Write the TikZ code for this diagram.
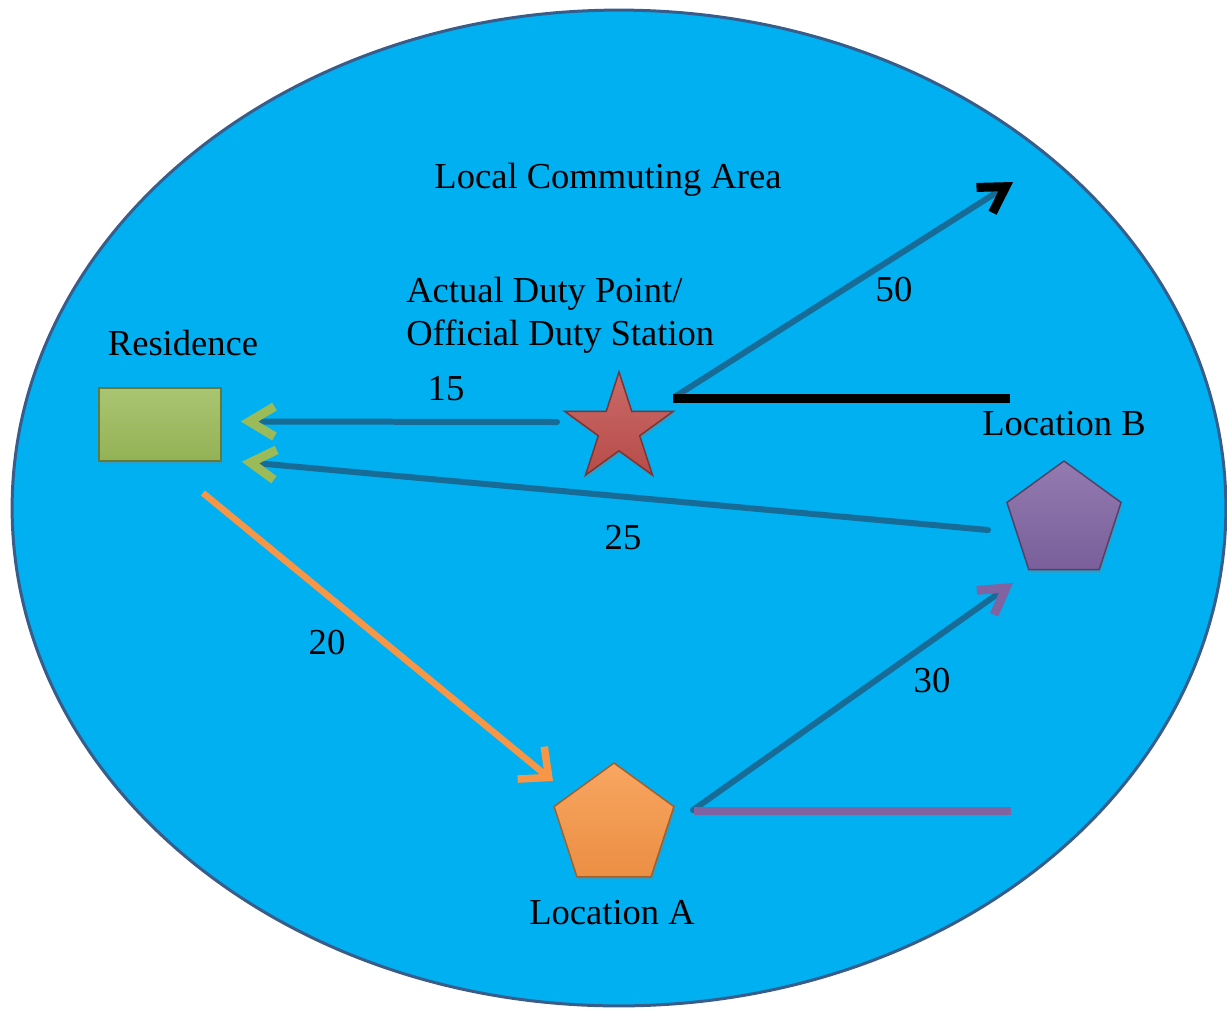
\documentclass[tikz,border=0pt]{standalone}
\usepackage{fontspec}
\setmainfont{Liberation Serif}
\usetikzlibrary{arrows.meta,calc,shapes.geometric,shadows}
\definecolor{area}{RGB}{0,176,240}
\definecolor{areaedge}{RGB}{56,93,138}
\definecolor{resgreen}{RGB}{155,187,89}
\definecolor{dutyred}{RGB}{192,80,77}
\definecolor{locpurple}{RGB}{128,100,162}
\definecolor{locorange}{RGB}{247,150,70}
\definecolor{shade}{RGB}{22,108,150}

\begin{document}
\begin{tikzpicture}[x=0.02cm,y=-0.02cm,
  lbl/.style={font=\fontsize{20.8}{25}\selectfont,inner sep=0pt,anchor=base},
  shp/.style={inner sep=0pt,line width=0.03cm,top color=#1!85!white,bottom color=#1!95!black,draw=#1!65!black,drop shadow={opacity=0.35,shadow xshift=0.03cm,shadow yshift=-0.06cm}},
  shaft/.style={line width=0.12cm,draw=shade,line cap=round},
  barb/.style={-{Straight Barb[color=#1,length=0.5cm,width=0.6cm,line width=0.18cm]}}]
  \useasboundingbox (0,0) rectangle (1227,1008);
  \draw[fill=area,draw=areaedge,line width=0.06cm] (619,508) ellipse [x radius=12.14cm,y radius=9.96cm];
  \node[shp=resgreen,rectangle,minimum width=2.44cm,minimum height=1.46cm] (res) at (160,424.5) {};
  \node[shp=dutyred,star,star points=5,star point ratio=2.618,minimum size=2.28cm] (duty) at (619,429) {};
  \node[shp=locpurple,regular polygon,regular polygon sides=5,minimum size=2.4cm] (locB) at (1064,521) {};
  \node[shp=locorange,regular polygon,regular polygon sides=5,minimum size=2.52cm] (locA) at (614,826) {};
  \coordinate (top50) at (1013,182); \coordinate (bar50) at (1010,398); \coordinate (bar30) at (1011,811);
  \draw[shaft,barb=resgreen] ($(duty.center)+(-62,-7)$) -- ($(res.east)+(19,-3)$);
  \draw[shaft,barb=resgreen] ($(locB.center)+(-76,9)$) -- ($(res.south east)+(20,0)$);
  \draw[line width=0.13cm,locorange,-{Straight Barb[length=0.46cm,width=0.84cm,line width=0.15cm]}] ($(res.center)+(43,68.5)$) -- ($(locA.center)+(-61,-45)$);
  \draw[shaft,barb=locpurple] ($(locA.center)+(79,-16)$) -- ($(locB.center)+(-51,62)$);
  \draw[line width=0.16cm,locpurple] ($(locA.center)+(80,-15)$) -- (bar30);
  \draw[shaft,barb=black] ($(duty.center)+(57,-33)$) -- (top50);
  \draw[line width=0.18cm] ($(duty.center)+(54,-31)$) -- (bar50);
  \node[lbl] (title) at (608,188) {Local Commuting Area};
  \node[lbl,anchor=base west] (duty1) at (406,302) {Actual Duty Point/};
  \node[lbl,anchor=base west] (duty2) at (406,345) {Official Duty Station};
  \node[lbl] (reslbl) at (183,355) {Residence};
  \node[lbl] (lblB) at (1064,435) {Location B};
  \node[lbl] (lblA) at (612,924) {Location A};
  \foreach \d/\x/\y in {15/446/400,25/623/549,20/327/654,30/932/692,50/894/301} \node[lbl] (d\d) at (\x,\y) {\d};
\end{tikzpicture}
\end{document}
